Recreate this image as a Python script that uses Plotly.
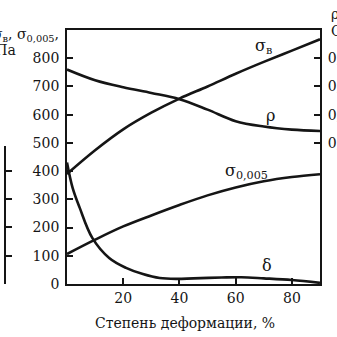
import plotly.graph_objects as go

# Data
deform = [0, 10, 20, 30, 40, 50, 60, 70, 80, 90]
sigma_b = [390, 474, 548, 607, 657, 700, 745, 787, 827, 867]
sigma_005 = [106, 157, 204, 243, 280, 314, 342, 364, 379, 389]
rho = [0.0760, 0.0722, 0.0697, 0.0677, 0.0655, 0.0618, 0.0577, 0.0558, 0.0547, 0.0542]

deform_delta = [0, 2, 4.5, 9, 15, 21, 27, 33, 39, 45, 55, 62, 70, 80, 90]
delta = [43, 34, 27, 16.3, 9.2, 5.7, 3.5, 2.1, 1.8, 2.0, 2.3, 2.4, 2.0, 1.4, 0.4]

x_ticks = [20, 40, 60, 80]
y_ticks = [0, 100, 200, 300, 400, 500, 600, 700, 800]
rho_ticks = [0.05, 0.06, 0.07, 0.08]
rho_ticktext = ["0,05", "0,06", "0,07", "0,08"]
delta_ticks = [0, 10, 20, 30, 40]

FONT = "DejaVu Serif"
INK = "#151515"
W, H = 337, 337
ML, MR, MT, MB = 5, 17, 30, 53
pw = W - ML - MR
ph = H - MT - MB

def px(xp):
    return (xp - ML) / pw

def py(yp):
    return (H - MB - yp) / ph

line = dict(color=INK, width=2.6, shape="spline", smoothing=1)

fig = go.Figure()
fig.add_trace(go.Scatter(x=deform, y=sigma_b, mode="lines", line=line,
                         xaxis="x", yaxis="y", showlegend=False))
fig.add_trace(go.Scatter(x=deform, y=sigma_005, mode="lines", line=line,
                         xaxis="x", yaxis="y", showlegend=False))
fig.add_trace(go.Scatter(x=deform, y=rho, mode="lines", line=line,
                         xaxis="x", yaxis="y2", showlegend=False))
fig.add_trace(go.Scatter(x=deform_delta, y=delta, mode="lines", line=line,
                         xaxis="x", yaxis="y3", showlegend=False))

x0 = (67 - ML) / pw
axis_common = dict(showgrid=False, zeroline=False, linecolor=INK, linewidth=1.8,
                   ticks="inside", tickcolor=INK, tickwidth=1.6, ticklen=6,
                   automargin=False,
                   tickfont=dict(family=FONT, size=14, color=INK))

fig.update_layout(
    width=W, height=H,
    margin=dict(l=ML, r=MR, t=MT, b=MB, autoexpand=False),
    paper_bgcolor="white", plot_bgcolor="rgba(0,0,0,0)",
    font=dict(family=FONT, size=14, color=INK),
    xaxis=dict(domain=[x0, 1], range=[0, 90], tickvals=x_ticks,
               showline=True, mirror=True, anchor="y", **axis_common),
    yaxis=dict(domain=[0, 1], range=[0, 900], tickvals=y_ticks,
               showline=True, mirror=True, anchor="x",
               ticklabelstandoff=3, **axis_common),
    yaxis2=dict(overlaying="y", side="right", anchor="x", range=[0, 0.09],
                tickvals=rho_ticks, ticktext=rho_ticktext, showline=True,
                ticklabelstandoff=3, **axis_common),
    yaxis3=dict(anchor="free", position=0, side="left",
                domain=[0, (284 - 146) / ph], range=[0, 48.8],
                tickvals=delta_ticks, showticklabels=False, showline=True,
                **{k: v for k, v in axis_common.items() if k != "tickfont"}),
)

ann = []
def add(text, x, y, xref="x", yref="y", xanchor="center", yanchor="middle", size=16):
    ann.append(dict(text=text, x=x, y=y, xref=xref, yref=yref, showarrow=False,
                    xanchor=xanchor, yanchor=yanchor,
                    font=dict(family=FONT, size=size, color=INK)))

add("σ<sub>в</sub>", 70, 842)
add("ρ", 72.3, 597)
add("σ<sub>0,005</sub>", 64, 398)
add("δ", 71.2, 64)

add("σ<sub>в</sub>, σ<sub>0,005</sub>,", px(61), py(35), "paper", "paper", "right", size=14)
add("МПа", px(18), py(50), "paper", "paper", "right", size=14)
add("ρ,", px(329), py(14), "paper", "paper", "left", size=14)
add("Ом·м", px(329), py(31), "paper", "paper", "left", size=14)
add("Степень деформации, %", px(185), py(323), "paper", "paper", "center", size=14)

fig.update_layout(annotations=ann)
fig.write_html("out.html")
